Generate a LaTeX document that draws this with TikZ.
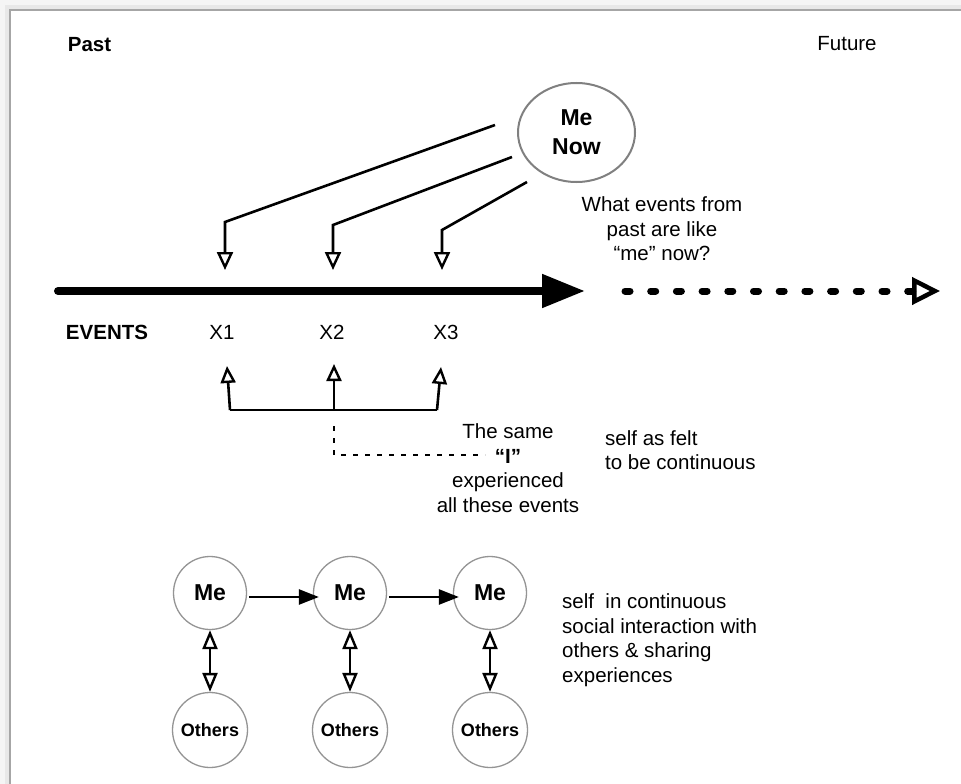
\documentclass[tikz,border=0pt]{standalone}
\usepackage{fontspec}
\setmainfont{Liberation Sans}
\usetikzlibrary{arrows.meta,shapes.geometric}
\begin{document}
\begin{tikzpicture}[x=1pt,y=-1pt,
  txt/.style={inner sep=0pt, font=\fontsize{20.5}{24.5}\selectfont},
  btxt/.style={inner sep=0pt, font=\bfseries\fontsize{20.5}{24.5}\selectfont},
  conn/.style={line width=2.6pt, black},
  opendown/.style={-{Triangle[open,length=18pt,width=16pt,line width=2.4pt]}},
  openup/.style={-{Triangle[open,length=17pt,width=15pt,line width=2.4pt]}},
  openboth/.style={{Triangle[open,length=19pt,width=15pt,line width=2.4pt]}-{Triangle[open,length=19pt,width=15pt,line width=2.4pt]}},
  solidtip/.style={-{Triangle[length=20pt,width=15pt]}},
  mecirc/.style={circle, draw=black!42, line width=1.3pt, minimum size=73pt, inner sep=0pt, font=\bfseries\fontsize{23}{28}\selectfont},
  otcirc/.style={circle, draw=black!42, line width=1.3pt, minimum size=75pt, inner sep=0pt, font=\bfseries\fontsize{18}{22}\selectfont}
]
\useasboundingbox (0,0) rectangle (961,784);
% page with shadow
\fill[black!4] (0,0) rectangle (961,784);
\fill[black!9] (5,5) rectangle (961,784);
\fill[white] (10,10) rectangle (961,784);
\draw[black!35, line width=1.2pt] (10,784) -- (10,10) -- (961,10);

% top labels
\node[btxt] (past) at (89.5,45) {Past};
\node[txt] (future) at (847,44) {Future};

% Me Now
\node[ellipse, draw=black!50, line width=2pt, minimum width=117pt, minimum height=99pt,
      inner sep=0pt, align=center, font=\bfseries\fontsize{23}{29}\selectfont] (menow) at (576.5,132.5) {Me\\Now};

\coordinate (s1) at (495,125);
\coordinate (k1) at (225,222);
\coordinate (e1) at (225,270);
\coordinate (s2) at (512,157);
\coordinate (k2) at (333,225);
\coordinate (e2) at (333,270);
\coordinate (s3) at (527,182);
\coordinate (k3) at (442,230);
\coordinate (e3) at (442,270);
\draw[conn, opendown] (s1) -- (k1) -- (e1);
\draw[conn, opendown] (s2) -- (k2) -- (e2);
\draw[conn, opendown] (s3) -- (k3) -- (e3);

\node[txt, align=center] (question) at (662,229) {What events from\\past are like\\“me” now?};

% timeline
\coordinate (tl0) at (58,291);
\coordinate (tl1) at (585,291);
\draw[line width=8pt, line cap=round, -{Triangle[length=43pt,width=32pt]}] (tl0) -- (tl1);
\coordinate (fu0) at (625,291);
\coordinate (fu1) at (940,291);
\draw[line width=7pt, line cap=round, dash pattern=on 5pt off 20.7pt,
      -{Triangle[open,length=28pt,width=27pt,line width=4.5pt]}] (fu0) -- (fu1);

% events
\node[btxt] (events) at (107,332) {EVENTS};
\node[txt] (x1) at (222,332) {X1};
\node[txt] (x2) at (332,332) {X2};
\node[txt] (x3) at (446,332) {X3};

% bracket
\coordinate (b1) at (230,410);
\coordinate (b2) at (334,410);
\coordinate (b3) at (437,410);
\coordinate (t1) at (227,366);
\coordinate (t2) at (334,364);
\coordinate (t3) at (441,367);
\draw[conn] (b1) -- (b3);
\draw[conn, openup] (b1) -- (t1);
\draw[conn, openup] (b2) -- (t2);
\draw[conn, openup] (b3) -- (t3);
\coordinate (d0) at (334,426);
\coordinate (d1) at (334,455);
\coordinate (d2) at (485,455);
\draw[line width=2.4pt, dash pattern=on 5pt off 7pt] (d0) -- (d1) -- (d2);

\node[txt, align=center] (same) at (508,468) {The same\\\textbf{“I”}\\experienced\\all these events};
\node[txt, align=left, anchor=west] (felt) at (605,450) {self as felt\\to be continuous};

% bottom
\node[mecirc] (me1) at (210,593) {Me};
\node[mecirc] (me2) at (350,593) {Me};
\node[mecirc] (me3) at (490,593) {Me};
\node[otcirc] (ot1) at (210,730) {Others};
\node[otcirc] (ot2) at (350,730) {Others};
\node[otcirc] (ot3) at (490,730) {Others};

\draw[conn, solidtip] ([shift={(2,4)}]me1.east) -- ([shift={(6,4)}]me2.west);
\draw[conn, solidtip] ([shift={(2,4)}]me2.east) -- ([shift={(6,4)}]me3.west);
\draw[conn, openboth] (me1) -- (ot1);
\draw[conn, openboth] (me2) -- (ot2);
\draw[conn, openboth] (me3) -- (ot3);

\node[txt, align=left, anchor=west] (social) at (562,640) {self\ \ in continuous\\social interaction with\\others \& sharing\\experiences};
\end{tikzpicture}
\end{document}
